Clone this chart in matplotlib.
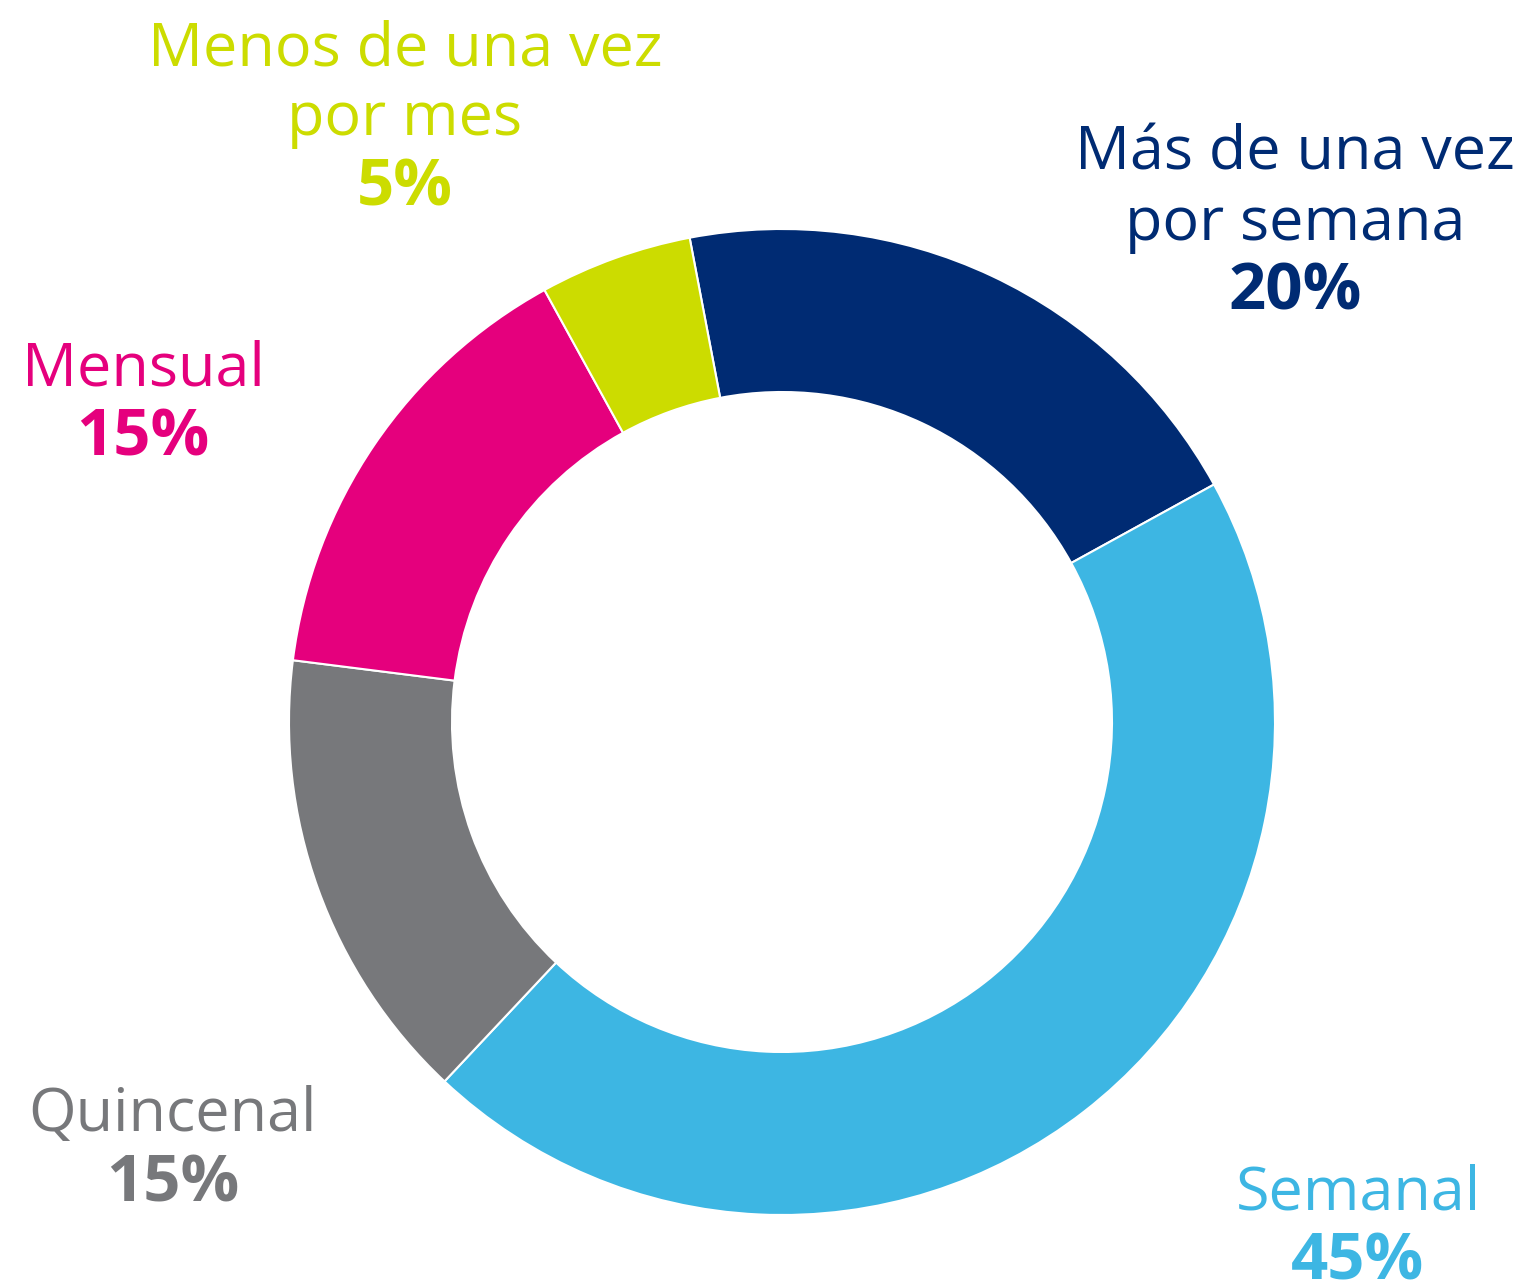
import matplotlib.pyplot as plt

# =====================
# Data
# =====================
categories = ["Más de una vez\npor semana", "Semanal", "Quincenal", "Mensual", "Menos de una vez\npor mes"]
values = [20, 45, 15, 15, 5]
colors = ["#002B73", "#3DB6E3", "#77787B", "#E5007D", "#CCDC00"]

# label layout (pixel coords: x centre, baseline of first line)
label_pos = [(1295, 170), (1358, 1210), (173, 1131), (143, 385), (405, 65)]

W, H = 1528, 1286
plt.rcParams['font.family'] = ['Open Sans', 'DejaVu Sans']

fig = plt.figure(figsize=(W / 100, H / 100), dpi=100)
ax = fig.add_axes([0, 0, 1, 1])

ax.pie(values, colors=colors, startangle=100.8, counterclock=False,
       center=(782, H - 722), radius=493,
       wedgeprops=dict(width=163, edgecolor='white', linewidth=1.5))

# pie() resets the limits, so set them afterwards
ax.set_xlim(0, W)
ax.set_ylim(0, H)
ax.set_aspect('equal')
ax.axis('off')

# =====================
# Labels
# =====================
line_gap = 70
for cat, val, col, (x, y) in zip(categories, values, colors, label_pos):
    lines = cat.split("\n")
    for i, ln in enumerate(lines):
        ax.text(x, H - (y + i * line_gap), ln, color=col, fontsize=44,
                ha='center', va='baseline')
    ax.text(x, H - (y + len(lines) * line_gap), f"{val}%", color=col,
            fontsize=47, fontweight='bold', ha='center', va='baseline')

plt.savefig("out.png", dpi=100)
